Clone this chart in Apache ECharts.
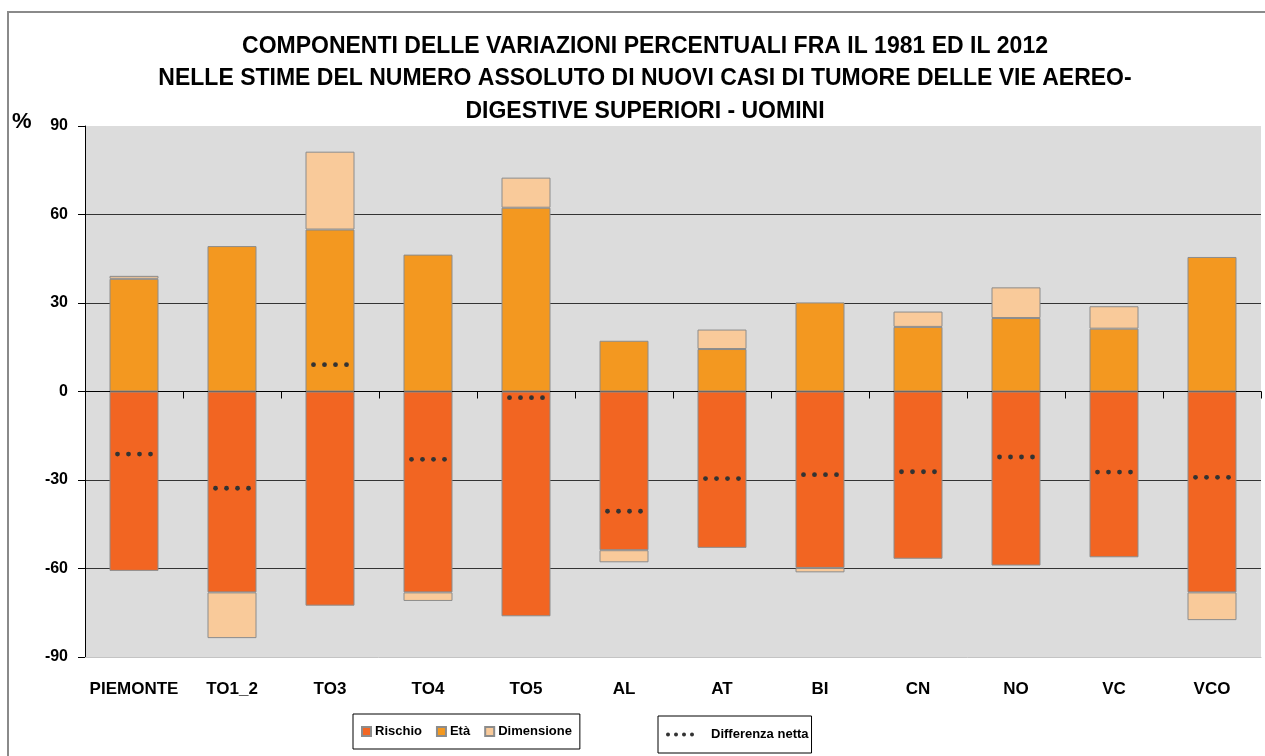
<!DOCTYPE html>
<html>
<head>
<meta charset="utf-8">
<script src="https://cdn.jsdelivr.net/npm/echarts@6/dist/echarts.min.js"></script>
<style>
  html, body { margin: 0; padding: 0; background: #fff; }
  #main { width: 1265px; height: 756px; }
</style>
</head>
<body>
<div id="main"></div>
<script>
// Data
var categories = ['PIEMONTE', 'TO1_2', 'TO3', 'TO4', 'TO5', 'AL', 'AT', 'BI', 'CN', 'NO', 'VC', 'VCO'];
var rischio = [-60.8, -68.1, -72.6, -68.1, -76.2, -53.8, -53.0, -59.8, -56.7, -59.0, -56.2, -68.1];
var eta = [38.2, 49.3, 54.9, 46.4, 62.3, 17.2, 14.4, 30.2, 21.9, 24.9, 21.3, 45.6];
var dimensione = [1.0, -15.5, 26.4, -2.9, 10.2, -4.1, 6.6, -1.5, 5.2, 10.4, 7.6, -9.4];
var differenzaNetta = [-21.2, -32.8, 9.1, -23.0, -2.1, -40.6, -29.5, -28.2, -27.2, -22.2, -27.3, -29.1];
var yTicks = [-90, -60, -30, 0, 30, 60, 90];

var FONT = '"Liberation Sans", Arial, sans-serif';
// four dots, used as legend icon for the net difference
var dotsIcon = 'path://M0,1A1,1,0,1,1,2,1A1,1,0,1,1,0,1Z' +
    'M4,1A1,1,0,1,1,6,1A1,1,0,1,1,4,1Z' +
    'M8,1A1,1,0,1,1,10,1A1,1,0,1,1,8,1Z' +
    'M12,1A1,1,0,1,1,14,1A1,1,0,1,1,12,1Z';

var myChart = echarts.init(document.getElementById('main'));

var barBorder = { borderColor: '#8c8c8c', borderWidth: 1 };

var option = {
    backgroundColor: '#fff',
    animation: false,
    textStyle: { fontFamily: FONT },
    title: {
        text: 'COMPONENTI DELLE VARIAZIONI PERCENTUALI FRA IL 1981 ED IL 2012\n' +
              'NELLE STIME DEL NUMERO ASSOLUTO DI NUOVI CASI DI TUMORE DELLE VIE AEREO-\n' +
              'DIGESTIVE SUPERIORI - UOMINI',
        left: 640,
        textAlign: 'center',
        top: 25,
        textStyle: { fontFamily: FONT, fontSize: 23, fontWeight: 'bold', color: '#000', lineHeight: 32.5 }
    },
    graphic: [
        {
            type: 'rect',
            shape: { x: 8, y: 12, width: 1270, height: 760 },
            style: { fill: 'none', stroke: '#8a8a8a', lineWidth: 2 },
            z: -1
        },
        {
            type: 'text',
            left: 12,
            top: 111,
            style: { text: '%', font: 'bold 22px ' + FONT, fill: '#000' }
        }
    ],
    legend: [
        {
            data: ['Rischio', 'Età', 'Dimensione'],
            left: 353,
            top: 714,
            orient: 'horizontal',
            icon: 'rect',
            itemWidth: 9,
            itemHeight: 9,
            itemGap: 14,
            padding: [11, 8, 11, 8],
            borderColor: '#000',
            borderWidth: 1,
            textStyle: { fontFamily: FONT, fontSize: 13, fontWeight: 'bold', color: '#000', padding: [0, 0, 0, -1] }
        },
        {
            data: [{ name: 'Differenza netta', icon: dotsIcon }],
            left: 658,
            top: 716,
            itemWidth: 28,
            itemHeight: 4,
            padding: [12, 3, 12, 8],
            borderColor: '#000',
            borderWidth: 1,
            textStyle: { fontFamily: FONT, fontSize: 13, fontWeight: 'bold', color: '#000', padding: [0, 0, 0, 12] }
        }
    ],
    grid: {
        left: 85,
        right: 4,
        top: 126,
        bottom: 99,
        show: true,
        backgroundColor: '#dcdcdc',
        borderWidth: 0
    },
    xAxis: [
        {
            type: 'category',
            data: categories,
            position: 'bottom',
            axisLine: { onZero: true, lineStyle: { color: '#000', width: 1 } },
            axisTick: { show: true, length: 7, lineStyle: { color: '#000' } },
            axisLabel: { show: false },
            splitLine: { show: false }
        },
        {
            type: 'category',
            data: categories,
            position: 'bottom',
            axisLine: { onZero: false, lineStyle: { color: '#c4c4c4', width: 1 } },
            axisTick: { show: false },
            axisLabel: { show: true, interval: 0, margin: 24, fontFamily: FONT, fontSize: 17, fontWeight: 'bold', color: '#000' }
        }
    ],
    yAxis: {
        type: 'value',
        min: -90,
        max: 90,
        interval: 30,
        axisLine: { show: true, lineStyle: { color: '#000' } },
        axisTick: { show: true, length: 7, lineStyle: { color: '#000' } },
        axisLabel: {
            margin: 17,
            fontFamily: FONT,
            fontSize: 16,
            fontWeight: 'bold',
            color: '#000',
            customValues: yTicks
        },
        splitLine: { show: true, showMinLine: false, showMaxLine: false, lineStyle: { color: '#333', width: 1 } }
    },
    series: [
        {
            name: 'Rischio',
            type: 'bar',
            stack: 'comp',
            barWidth: '50%',
            itemStyle: Object.assign({ color: '#f26522' }, barBorder),
            data: rischio
        },
        {
            name: 'Età',
            type: 'bar',
            stack: 'comp',
            barWidth: '50%',
            itemStyle: Object.assign({ color: '#f39820' }, barBorder),
            data: eta
        },
        {
            name: 'Dimensione',
            type: 'bar',
            stack: 'comp',
            barWidth: '50%',
            itemStyle: Object.assign({ color: '#f9ca9a' }, barBorder),
            data: dimensione
        },
        {
            name: 'Differenza netta',
            type: 'custom',
            itemStyle: { color: '#333' },
            encode: { x: 0, y: 1 },
            z: 10,
            data: differenzaNetta.map(function (v, i) { return [i, v]; }),
            renderItem: function (params, api) {
                var p = api.coord([api.value(0), api.value(1)]);
                var offsets = [-16.5, -5.5, 5.5, 16.5];
                return {
                    type: 'group',
                    children: offsets.map(function (dx) {
                        return {
                            type: 'circle',
                            shape: { cx: p[0] + dx, cy: p[1], r: 2.4 },
                            style: { fill: '#333' }
                        };
                    })
                };
            }
        }
    ]
};

myChart.setOption(option);
</script>
</body>
</html>
